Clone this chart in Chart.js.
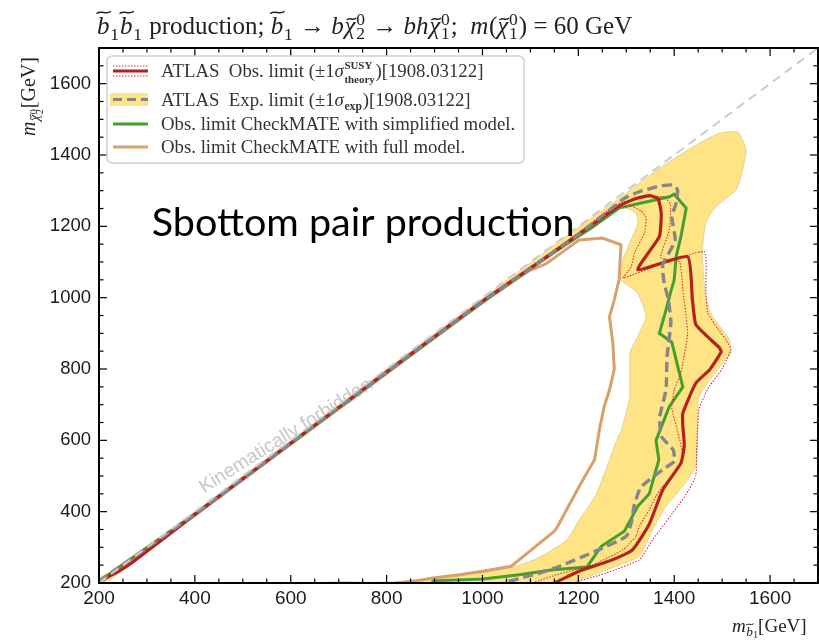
<!DOCTYPE html>
<html>
<head>
<meta charset="utf-8">
<script src="https://cdn.jsdelivr.net/npm/chart.js@4.4.1/dist/chart.umd.min.js"></script>
<style>
  html, body { margin: 0; padding: 0; background: #fff; }
</style>
</head>
<body>
<canvas id="limits" width="819" height="641"></canvas>
<script>
// axis ticks (GeV)
const xTicks = [200, 400, 600, 800, 1000, 1200, 1400, 1600];
const yTicks = [200, 400, 600, 800, 1000, 1200, 1400, 1600];

// contours as [m(sbottom), m(chi2)] in GeV
const kinLimit = [[200, 200], [1700, 1700]];

const atlasObs = [
  [200, 205], [240, 232], [270, 258], [400, 392], [600, 592], [800, 792], [1000, 990],
  [1100, 1083], [1180, 1158], [1240, 1215], [1286, 1258], [1320, 1278], [1348, 1286],
  [1366, 1278], [1373, 1237], [1369, 1171], [1324, 1078], [1428, 1115], [1438, 994],
  [1445, 925], [1470, 890], [1494, 860], [1498, 848], [1474, 798], [1445, 760],
  [1418, 676], [1418, 640], [1421, 585], [1414, 536], [1376, 461], [1348, 365],
  [1313, 293], [1265, 262], [1205, 235], [1150, 200]
];

const atlasObsUp = [
  [200, 202], [400, 390], [600, 590], [800, 790], [1000, 988], [1100, 1080],
  [1200, 1175], [1265, 1245], [1307, 1258], [1331, 1243], [1341, 1225], [1338, 1181],
  [1317, 1125], [1310, 1085], [1293, 1055], [1369, 1092], [1463, 1129], [1466, 1022],
  [1470, 957], [1490, 915], [1508, 882], [1518, 855], [1500, 800], [1473, 751],
  [1452, 690], [1449, 639], [1447, 580], [1445, 500], [1430, 460], [1410, 420],
  [1355, 321], [1327, 265], [1258, 228], [1188, 200]
];

const atlasObsDown = [
  [200, 207], [400, 394], [600, 594], [800, 794], [1000, 992], [1100, 1086],
  [1200, 1182], [1280, 1262], [1330, 1280], [1380, 1283], [1392, 1260], [1390, 1190],
  [1372, 1112], [1411, 1100], [1418, 1022], [1428, 900], [1414, 790], [1400, 742],
  [1395, 690], [1410, 611], [1418, 555], [1411, 527], [1397, 499], [1376, 471],
  [1362, 443], [1348, 405], [1327, 359], [1320, 331], [1293, 293], [1230, 251],
  [1154, 223], [1105, 200]
];

const atlasExp = [
  [200, 205], [400, 393], [600, 592], [800, 791], [1000, 989], [1100, 1082],
  [1200, 1176], [1260, 1240], [1298, 1280], [1327, 1297], [1369, 1313], [1397, 1316],
  [1407, 1302], [1404, 1265], [1395, 1227], [1402, 1160], [1376, 1092], [1379, 1041],
  [1388, 994], [1393, 929], [1385, 835], [1383, 742], [1370, 667], [1373, 611],
  [1398, 573], [1400, 541], [1376, 518], [1330, 468], [1316, 415], [1312, 377],
  [1300, 331], [1237, 290], [1161, 247], [1119, 228], [1091, 218], [1043, 200]
];

// +-1 sigma expected band, traced as one closed outline
const atlasExpBand = [
  [200, 200], [204, 218], [230, 228], [400, 399], [800, 799], [1000, 998], [1200, 1197],
  [1286, 1279], [1327, 1321], [1369, 1362], [1439, 1423], [1494, 1461], [1532, 1465],
  [1543, 1442], [1550, 1414], [1543, 1358], [1529, 1302], [1487, 1255], [1466, 1209],
  [1459, 1125], [1466, 1000], [1480, 947], [1515, 882], [1518, 844], [1501, 816],
  [1452, 723], [1449, 630], [1445, 527], [1418, 471], [1383, 415], [1355, 349],
  [1327, 275], [1279, 247], [1202, 209], [1161, 200], [650, 200], [700, 204],
  [760, 202], [862, 205], [994, 228], [1056, 242], [1112, 268], [1175, 320],
  [1202, 377], [1235, 443], [1258, 520], [1280, 601], [1290, 630], [1307, 723],
  [1308, 845], [1325, 895], [1341, 947], [1322, 1015], [1289, 1050], [1293, 1106],
  [1307, 1153], [1324, 1209], [1320, 1237], [1300, 1251], [1272, 1248], [1223, 1205],
  [1200, 1178], [1000, 982], [800, 783], [400, 386], [220, 206]
];

const cmSimplified = [
  [200, 205], [400, 394], [600, 592], [800, 790], [1000, 987], [1100, 1082],
  [1175, 1150], [1230, 1198], [1286, 1252], [1341, 1268], [1390, 1283], [1400, 1290],
  [1425, 1251], [1414, 1171], [1404, 1115], [1400, 1050], [1390, 1003], [1383, 966],
  [1369, 900], [1395, 875], [1418, 750], [1390, 695], [1362, 600], [1368, 546],
  [1348, 450], [1324, 415], [1296, 345], [1248, 303], [1218, 245], [1147, 237],
  [1077, 223], [1001, 211], [897, 206], [895, 200]
];

const cmFull = [
  [200, 198], [400, 390], [600, 590], [800, 788], [966, 956], [1098, 1076],
  [1133, 1095], [1202, 1162], [1250, 1167], [1289, 1148], [1285, 1050], [1275, 994],
  [1265, 947], [1272, 872], [1275, 800], [1265, 741], [1254, 695], [1244, 630],
  [1234, 546], [1202, 471], [1157, 359], [1150, 345], [1102, 293], [1060, 247],
  [1001, 233], [952, 223], [897, 214], [860, 206], [820, 200]
];

const RED = '#b5211f';
const RED_DOT = '#d8323a';
const GRAY = '#85858a';
const GREEN = '#43a02e';
const ORANGE = '#daa06a';
const BAND = '#fee485';

const serif = '"Liberation Serif", "DejaVu Serif", serif';
const sans = '"Liberation Sans", Arial, sans-serif';

const toXY = pts => pts.map(([x, y]) => ({ x, y }));

function lineSet(data, color, width, extra) {
  return Object.assign({
    data: toXY(data),
    showLine: true,
    borderColor: color,
    borderWidth: width,
    pointRadius: 0,
    fill: false
  }, extra);
}

// small wave drawn over a glyph
function tilde(ctx, x, y, w, size) {
  const a = size * 0.045;
  ctx.save();
  ctx.lineWidth = Math.max(1, size * 0.055);
  ctx.beginPath();
  ctx.moveTo(x, y + a);
  ctx.bezierCurveTo(x + w * 0.35, y - 2.4 * a, x + w * 0.62, y + 2.4 * a, x + w, y - a);
  ctx.stroke();
  ctx.restore();
}

function fontFor(size, p) {
  return (p.i ? 'italic ' : '') + (p.b ? 'bold ' : '') + size + 'px ' + serif;
}

// mathtext-like run of pieces: plain/italic text, tildes, stacked scripts
function rich(ctx, parts, x, y, size) {
  let cx = x;
  ctx.textAlign = 'left';
  ctx.textBaseline = 'alphabetic';
  for (const p of parts) {
    if (p.sup !== undefined || p.sub !== undefined) {
      const s = size * (p.s || 0.7);
      const base = y + (p.dy || 0) * size;
      ctx.font = fontFor(s, p);
      let w = 0;
      if (p.sup) {
        ctx.fillText(p.sup, cx, base - (p.up || 0.36) * size);
        w = Math.max(w, ctx.measureText(p.sup).width);
      }
      if (p.sub) {
        ctx.fillText(p.sub, cx, base + (p.dn || 0.2) * size);
        w = Math.max(w, ctx.measureText(p.sub).width);
      }
      cx += w + size * 0.04;
      continue;
    }
    const s = size * (p.s || 1);
    const base = y + (p.dy || 0) * size;
    ctx.font = fontFor(s, p);
    ctx.fillText(p.t, cx, base);
    const w = ctx.measureText(p.t).width;
    if (p.tl) {
      const tall = p.t === 'b';
      tilde(ctx, cx + (tall ? -0.02 : 0.08) * s, base - (tall ? 0.86 : 0.6) * s, w * (tall ? 1.15 : 0.9), s);
    }
    cx += w + (p.i ? s * 0.03 : 0);
  }
  return cx - x;
}

const titleParts = [
  { t: 'b', i: 1, tl: 1 }, { sub: '1', dn: 0.22 }, { t: 'b', i: 1, tl: 1 }, { sub: '1', dn: 0.22 },
  { t: ' production; ' }, { t: 'b', i: 1, tl: 1 }, { sub: '1', dn: 0.22 }, { t: ' → ' },
  { t: 'b', i: 1 }, { t: 'χ', i: 1, tl: 1 }, { sup: '0', sub: '2' }, { t: ' → ' },
  { t: 'bh', i: 1 }, { t: 'χ', i: 1, tl: 1 }, { sup: '0', sub: '1' }, { t: ';  ' },
  { t: 'm', i: 1 }, { t: '(' }, { t: 'χ', i: 1, tl: 1 }, { sup: '0', sub: '1' }, { t: ')' },
  { t: ' = 60 GeV' }
];

const yLabelParts = [
  { t: 'm', i: 1 }, { t: 'χ', i: 1, tl: 1, s: 0.72, dy: 0.22 },
  { sup: '0', sub: '2', s: 0.52, dy: 0.22, up: 0.14, dn: 0.17 }, { t: '[GeV]' }
];

const xLabelParts = [
  { t: 'm', i: 1 }, { t: 'b', i: 1, tl: 1, s: 0.7, dy: 0.2 }, { t: '1', s: 0.5, dy: 0.3 },
  { t: '[GeV]' }
];

const legendRows = [
  [{ t: 'ATLAS  Obs. limit (±1' }, { t: 'σ', i: 1 },
   { sup: 'SUSY', sub: 'theory', b: 1, s: 0.58, up: 0.42, dn: 0.3 }, { t: ')[1908.03122]' }],
  [{ t: 'ATLAS  Exp. limit (±1' }, { t: 'σ', i: 1 },
   { sub: 'exp', b: 1, s: 0.62, dn: 0.22 }, { t: ')[1908.03122]' }],
  [{ t: 'Obs. limit CheckMATE with simplified model.' }],
  [{ t: 'Obs. limit CheckMATE with full model.' }]
];

function seg(ctx, x0, y0, x1, y1) {
  ctx.beginPath();
  ctx.moveTo(x0, y0);
  ctx.lineTo(x1, y1);
  ctx.stroke();
}

const decorations = {
  id: 'decorations',
  beforeDatasetsDraw(chart) {
    const { ctx, chartArea: a, scales: { x, y } } = chart;
    ctx.save();
    ctx.beginPath();
    ctx.rect(a.left, a.top, a.right - a.left, a.bottom - a.top);
    ctx.clip();
    const txt = 'Kinematically forbidden';
    ctx.font = '17px ' + sans;
    const fs = 17 * 200 / ctx.measureText(txt).width;
    ctx.font = fs + 'px ' + sans;
    ctx.translate(x.getPixelForValue(590), y.getPixelForValue(612));
    ctx.rotate(-32 * Math.PI / 180);
    ctx.fillStyle = '#c8c8c8';
    ctx.textAlign = 'center';
    ctx.textBaseline = 'middle';
    ctx.fillText(txt, 0, 0);
    ctx.restore();
  },
  afterDatasetsDraw(chart) {
    const { ctx, chartArea: a, scales: { x, y } } = chart;
    ctx.save();

    // inward ticks on all four sides, minor every 50 GeV
    ctx.strokeStyle = '#000';
    ctx.lineWidth = 1.2;
    for (let v = 250; v < 1700; v += 50) {
      const len = v % 200 === 0 ? 8 : 4.5;
      const px = x.getPixelForValue(v);
      const py = y.getPixelForValue(v);
      seg(ctx, px, a.bottom, px, a.bottom - len);
      seg(ctx, px, a.top, px, a.top + len);
      seg(ctx, a.left, py, a.left + len, py);
      seg(ctx, a.right, py, a.right - len, py);
    }
    ctx.lineWidth = 2;
    ctx.strokeRect(a.left, a.top, a.right - a.left, a.bottom - a.top);

    // legend
    const lx = 107, ly = 56, lw = 417, lh = 107;
    ctx.fillStyle = 'rgba(255,255,255,0.85)';
    ctx.strokeStyle = '#cfcfcf';
    ctx.lineWidth = 1.5;
    ctx.beginPath();
    ctx.roundRect(lx, ly, lw, lh, 5);
    ctx.fill();
    ctx.stroke();

    const sx0 = 113, sx1 = 148;
    const rowsY = [71, 99.5, 124, 147];
    ctx.lineCap = 'butt';
    // row 1: observed with theory band lines
    ctx.strokeStyle = RED_DOT;
    ctx.lineWidth = 1.1;
    ctx.setLineDash([1.5, 1.5]);
    seg(ctx, sx0, rowsY[0] - 5, sx1, rowsY[0] - 5);
    seg(ctx, sx0, rowsY[0] + 5, sx1, rowsY[0] + 5);
    ctx.setLineDash([]);
    ctx.strokeStyle = RED;
    ctx.lineWidth = 3.2;
    seg(ctx, sx0, rowsY[0], sx1, rowsY[0]);
    // row 2: expected with band
    ctx.fillStyle = BAND;
    ctx.fillRect(sx0 - 3, rowsY[1] - 6.5, sx1 - sx0 + 3, 13);
    ctx.strokeStyle = GRAY;
    ctx.lineWidth = 3.2;
    ctx.setLineDash([9, 5]);
    seg(ctx, sx0, rowsY[1], sx1, rowsY[1]);
    ctx.setLineDash([]);
    ctx.lineWidth = 3;
    ctx.strokeStyle = GREEN;
    seg(ctx, sx0, rowsY[2], sx1, rowsY[2]);
    ctx.strokeStyle = ORANGE;
    seg(ctx, sx0, rowsY[3], sx1, rowsY[3]);

    ctx.fillStyle = '#333';
    ctx.strokeStyle = '#333';
    legendRows.forEach((parts, i) => rich(ctx, parts, 161, rowsY[i] + 6, 18.8));

    // slide caption
    const cap = 'Sbottom pair production';
    ctx.font = '42px Lato';
    const cfs = 42 * 423 / ctx.measureText(cap).width;
    ctx.font = cfs + 'px Lato';
    ctx.fillStyle = '#000';
    ctx.textAlign = 'left';
    ctx.textBaseline = 'alphabetic';
    ctx.fillText(cap, x.getPixelForValue(310), y.getPixelForValue(1172));
    ctx.restore();
  },
  afterDraw(chart) {
    const { ctx, chartArea: a } = chart;
    ctx.save();
    ctx.fillStyle = '#222';
    ctx.strokeStyle = '#222';
    rich(ctx, titleParts, a.left - 2, a.top - 14, 25);

    // y title sits at the top of the axis, x title at the right end
    ctx.save();
    ctx.translate(35, a.top + 88);
    ctx.rotate(-Math.PI / 2);
    rich(ctx, yLabelParts, 0, 0, 20);
    ctx.restore();

    rich(ctx, xLabelParts, a.right - 86, a.bottom + 49, 19);
    ctx.restore();
  }
};

new Chart(document.getElementById('limits'), {
  type: 'scatter',
  data: {
    datasets: [
      lineSet(kinLimit, '#cccccc', 2, { borderDash: [9, 6], order: 0 }),
      lineSet(atlasExp, GRAY, 3.4, { borderDash: [10, 5], tension: 0.15, order: 1 }),
      lineSet(atlasObs, RED, 3.2, { tension: 0.15, order: 2 }),
      lineSet(atlasObsUp, RED_DOT, 1.1, { borderDash: [1.5, 1.5], tension: 0.15, order: 3 }),
      lineSet(atlasObsDown, RED_DOT, 1.1, { borderDash: [1.5, 1.5], tension: 0.15, order: 3 }),
      lineSet(cmSimplified, GREEN, 3, { order: 4 }),
      lineSet(cmFull, ORANGE, 3, { order: 5 }),
      lineSet(atlasExpBand, 'rgba(200,188,140,0.55)', 1, {
        fill: 'shape', backgroundColor: BAND, tension: 0.2, order: 7
      })
    ]
  },
  options: {
    responsive: false,
    animation: false,
    devicePixelRatio: 1,
    layout: { padding: { top: 48, right: 1, left: 0, bottom: 0 } },
    plugins: { legend: { display: false }, tooltip: { enabled: false } },
    scales: {
      x: {
        type: 'linear',
        min: 200,
        max: 1700,
        afterFit: s => { s.height = 58; },
        afterBuildTicks: s => { s.ticks = xTicks.map(v => ({ value: v })); },
        grid: { display: false, drawTicks: false },
        border: { display: false },
        ticks: {
          font: { family: sans, size: 19 }, color: '#1a1a1a', padding: 4, maxRotation: 0,
          callback: v => String(v)
        }
      },
      y: {
        type: 'linear',
        min: 200,
        max: 1700,
        afterFit: s => { s.width = 99; },
        afterBuildTicks: s => { s.ticks = yTicks.map(v => ({ value: v })); },
        grid: { display: false, drawTicks: false },
        border: { display: false },
        ticks: {
          font: { family: sans, size: 18.5 }, color: '#1a1a1a', padding: 8,
          callback: v => String(v)
        }
      }
    }
  },
  plugins: [decorations]
});
</script>
</body>
</html>
